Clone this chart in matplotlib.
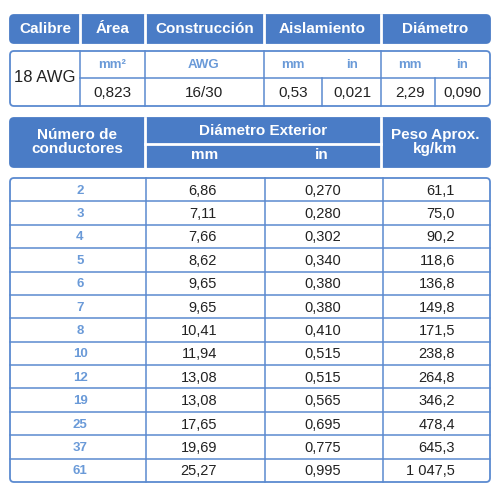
import matplotlib.pyplot as plt
from matplotlib.patches import FancyBboxPatch

n_cond = ['2', '3', '4', '5', '6', '7', '8', '10', '12', '19', '25', '37', '61']
diam_mm = ['6,86', '7,11', '7,66', '8,62', '9,65', '9,65', '10,41', '11,94', '13,08', '13,08', '17,65', '19,69', '25,27']
diam_in = ['0,270', '0,280', '0,302', '0,340', '0,380', '0,380', '0,410', '0,515', '0,515', '0,565', '0,695', '0,775', '0,995']
peso = ['61,1', '75,0', '90,2', '118,6', '136,8', '149,8', '171,5', '238,8', '264,8', '346,2', '478,4', '645,3', '1 047,5']

top_head = ['Calibre', 'Área', 'Construcción', 'Aislamiento', 'Diámetro']
top_units = ['mm²', 'AWG', 'mm', 'in', 'mm', 'in']
top_vals = ['0,823', '16/30', '0,53', '0,021', '2,29', '0,090']

BLUE = '#4a7cc6'
LINE = '#5b8ad0'
UNIT = '#6a9ad8'

fig = plt.figure(figsize=(5, 5), dpi=100)
ax = fig.add_axes([0, 0, 1, 1])
ax.set_xlim(0, 500)
ax.set_ylim(500, 0)
ax.axis('off')

def box(x0, y0, x1, y1, fill, edge):
    ax.add_patch(FancyBboxPatch((x0, y0), x1 - x0, y1 - y0, boxstyle='round,pad=0,rounding_size=4',
                                fc=fill, ec=edge, lw=1.3))

def vline(x, y0, y1, c, lw=1.1):
    ax.plot([x, x], [y0, y1], color=c, lw=lw)

def hline(y, x0, x1, c, lw=1.1):
    ax.plot([x0, x1], [y, y], color=c, lw=lw)

hfont = dict(color='white', fontweight='bold', family='Liberation Sans', va='center', ha='center')
tfont = dict(color='#222222', family='Liberation Sans', va='center')

# top header
tx = [10, 80, 145, 264, 381, 490]
box(10, 15, 490, 43, BLUE, BLUE)
for i, t in enumerate(top_head):
    if i > 0:
        vline(tx[i], 15, 43, 'white', 2)
    ax.text((tx[i] + tx[i + 1]) / 2, 29, t, fontsize=11, **hfont)

# top values
box(10, 51, 490, 106, 'white', LINE)
for x in tx[1:-1]:
    vline(x, 51, 106, LINE)
hline(78, 80, 490, LINE)
vline(322, 78, 106, LINE)
vline(435, 78, 106, LINE)
ax.text(45, 78, '18 AWG', fontsize=12, ha='center', **tfont)
ucx = [112, 204, 293, 352, 410, 462]
for x, u, v in zip(ucx, top_units, top_vals):
    ax.text(x, 65, u, fontsize=9.5, ha='center', color=UNIT, fontweight='bold',
            family='Liberation Sans', va='center')
    ax.text(x, 93, v, fontsize=11, ha='center', **tfont)

# second header
box(10, 118, 490, 167, BLUE, BLUE)
vline(145, 118, 167, 'white', 2)
vline(381, 118, 167, 'white', 2)
hline(144, 145, 381, 'white', 2)
ax.text(77, 142, 'Número de\nconductores', fontsize=11, linespacing=1.05, **hfont)
ax.text(263, 131, 'Diámetro Exterior', fontsize=11, **hfont)
ax.text(205, 155, 'mm', fontsize=11, **hfont)
ax.text(322, 155, 'in', fontsize=11, **hfont)
ax.text(435, 142, 'Peso Aprox.\nkg/km', fontsize=11, linespacing=1.05, **hfont)

# body
y0, y1 = 178, 482
box(10, y0, 490, y1, 'white', LINE)
for x in [146, 265, 383]:
    vline(x, y0, y1, LINE)
rh = (y1 - y0) / len(n_cond)
for i in range(len(n_cond)):
    if i > 0:
        hline(y0 + i * rh, 10, 490, LINE)
    yc = y0 + (i + 0.5) * rh + 1
    ax.text(80, yc, n_cond[i], fontsize=9.5, ha='center', color=UNIT, fontweight='bold',
            family='Liberation Sans', va='center')
    ax.text(217, yc, diam_mm[i], fontsize=10.5, ha='right', **tfont)
    ax.text(341, yc, diam_in[i], fontsize=10.5, ha='right', **tfont)
    ax.text(455, yc, peso[i], fontsize=10.5, ha='right', **tfont)

fig.savefig('out.png', dpi=100)
